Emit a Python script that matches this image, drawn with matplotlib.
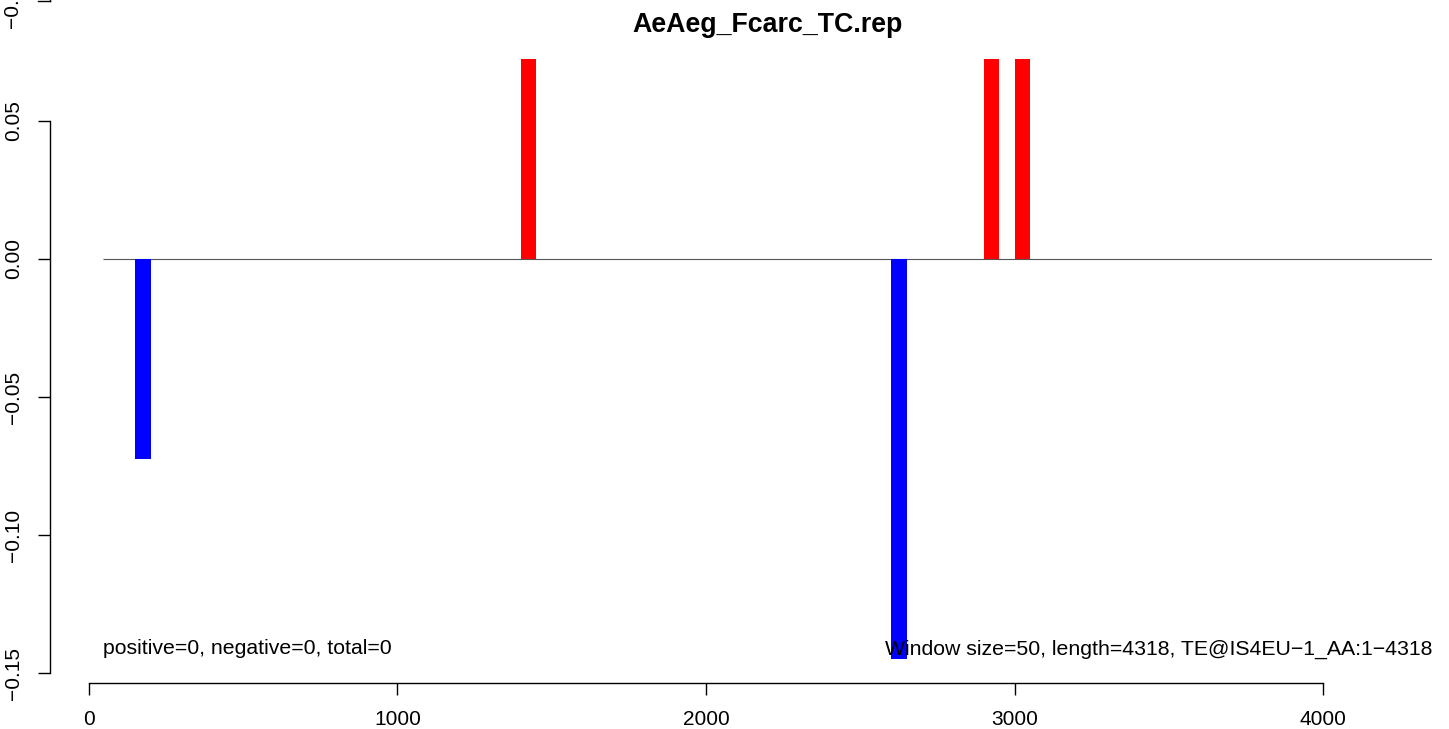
import matplotlib
matplotlib.use("Agg")
import matplotlib.pyplot as plt
from matplotlib.lines import Line2D

plt.rcParams['font.family'] = ['Liberation Sans', 'DejaVu Sans']

title = "AeAeg_Fcarc_TC.rep"
window = 50
# window start positions and values
pos_start = [1400, 2900, 3000]
pos_vals = [0.0724, 0.0724, 0.0724]
neg_start = [150, 2600]
neg_vals = [-0.0724, -0.1449]

xticks = [0, 1000, 2000, 3000, 4000]
xticklabels = ["0", "1000", "2000", "3000", "4000"]
yticks = [-0.15, -0.10, -0.05, 0.00, 0.05]
yticklabels = ["\u22120.15", "\u22120.10", "\u22120.05", "0.00", "0.05"]
region = (45.4, 4353.3)   # x extent of the R plot region
ylim = (-0.15362, 0.07572)

left_note = "positive=0, negative=0, total=0"
right_note = "Window size=50, length=4318, TE@IS4EU\u22121_AA:1\u22124318"

W, H = 1449, 729
fig = plt.figure(figsize=(W / 100, H / 100), dpi=100)
ax = fig.add_axes([50 / W, (H - 683) / H, (1432 - 50) / W, (683 - 50) / H])

ax.bar(pos_start, pos_vals, width=window, align='edge', color='#FF0000', linewidth=0)
ax.bar(neg_start, neg_vals, width=window, align='edge', color='#0000FF', linewidth=0)
ax.hlines(0, region[0], region[1], color='#555555', lw=0.8, zorder=0.5)

ax.set_xticks(xticks)
ax.set_yticks(yticks)
ax.set_xlim(-126.4, region[1])
ax.set_ylim(*ylim)
ax.set_xticklabels(xticklabels)
ax.set_yticklabels(yticklabels)

for s in ['top', 'right']:
    ax.spines[s].set_visible(False)
ax.spines['left'].set_bounds(yticks[0], yticks[-1])
ax.spines['bottom'].set_bounds(xticks[0], xticks[-1])
for s in ['left', 'bottom']:
    ax.spines[s].set_linewidth(1.0)

ax.tick_params(axis='both', length=8.6, width=1.0, labelsize=15)
ax.tick_params(axis='x', pad=11)
ax.tick_params(axis='y', pad=11, labelrotation=90)
for lab in ax.get_yticklabels():
    lab.set_va('center')

ax.text(region[0], -0.1413, left_note, fontsize=15.3, ha='left', va='center')
ax.text(region[1], -0.1413, right_note, fontsize=15.3, ha='right', va='center')
ax.text(sum(region) / 2, ylim[1], title, fontsize=19.3, fontweight='bold',
        ha='center', va='center',
        transform=ax.transData + matplotlib.transforms.ScaledTranslation(0, 25 / 100, fig.dpi_scale_trans))

# fragment of the panel above (cut off at the top edge)
fig.add_artist(Line2D([38 / W, 50 / W], [1 - 1 / H, 1 - 1 / H], color='black', lw=1.0))
fig.add_artist(Line2D([50 / W, 50 / W], [1 - 1 / H, 1.0], color='black', lw=1.0))
fig.text(13 / W, 1 - 1 / H, "\u22120.15", rotation=90, fontsize=15, ha='center', va='center')

fig.savefig("out.png", dpi=100)
